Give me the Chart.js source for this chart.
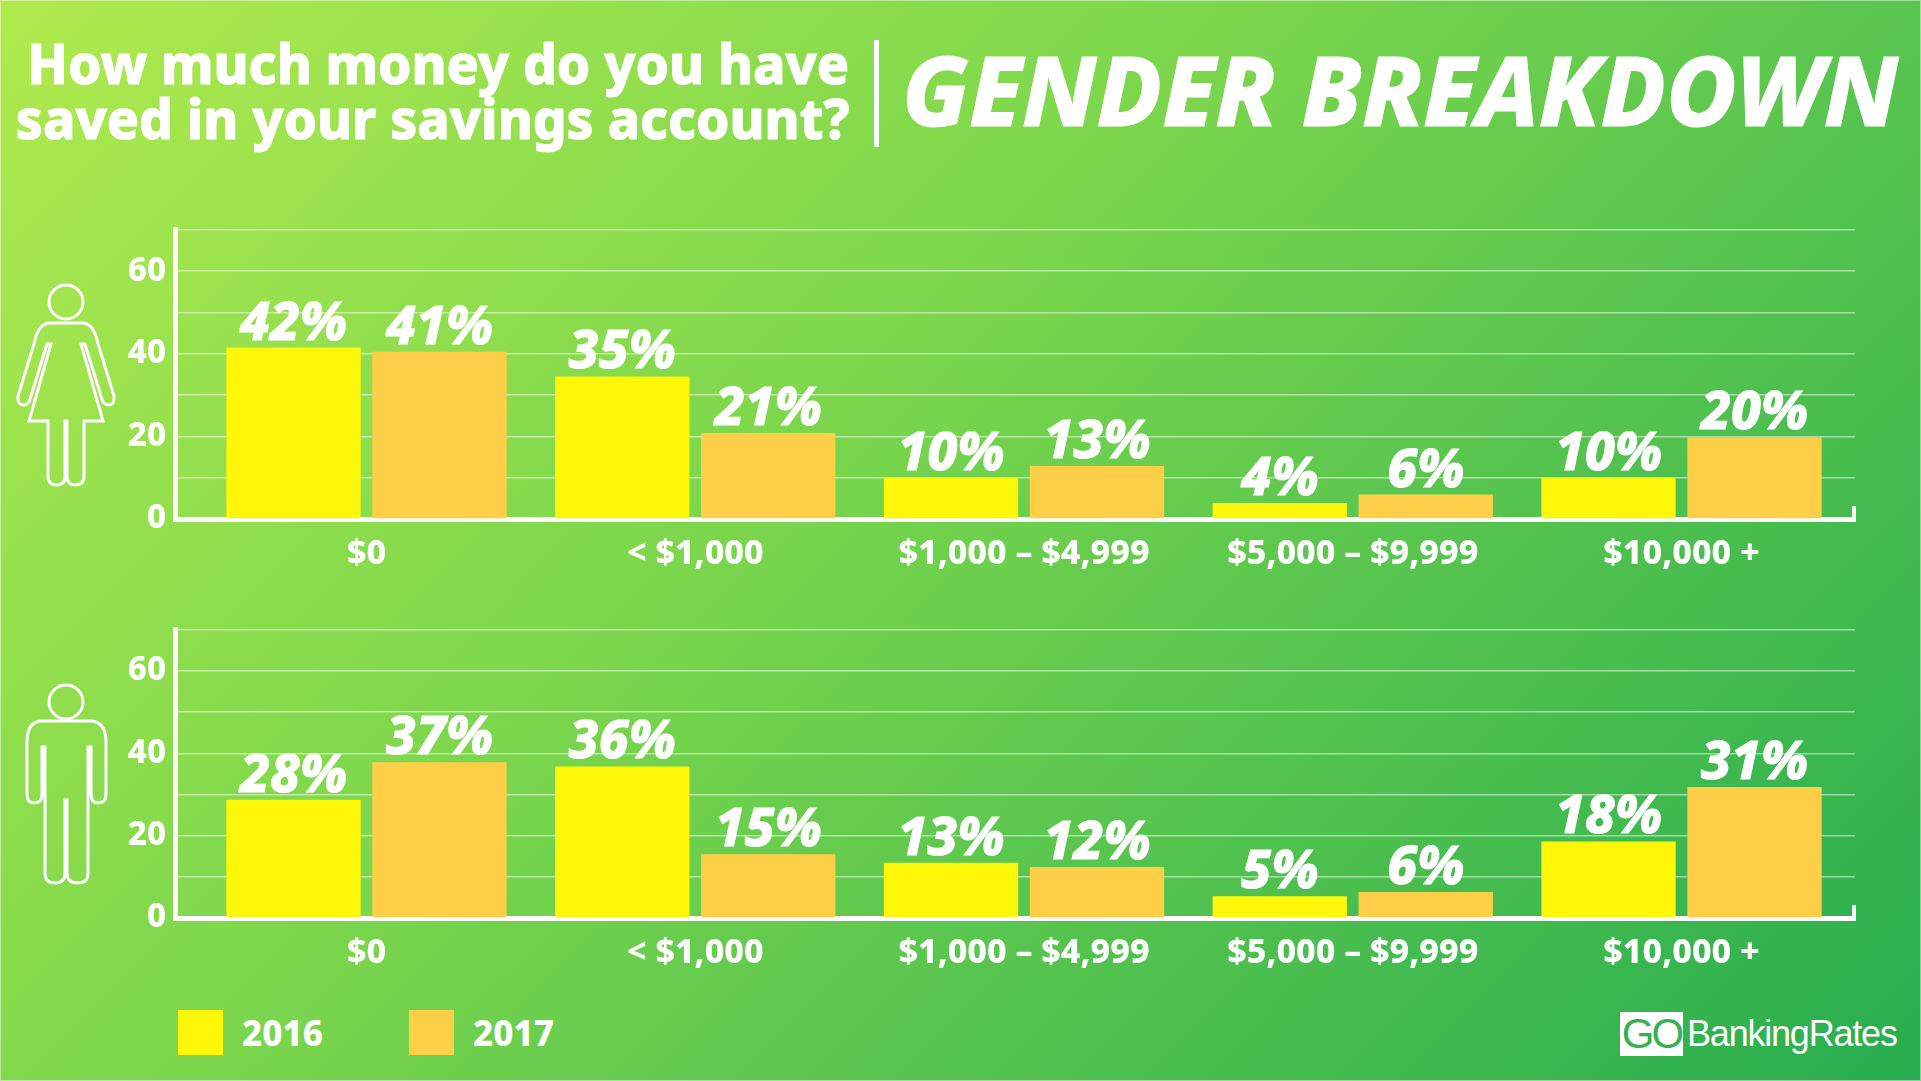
<!DOCTYPE html>
<html>
<head>
<meta charset="utf-8">
<title>Gender Breakdown</title>
<script src="https://cdn.jsdelivr.net/npm/chart.js@4"></script>
<style>
  html, body { margin: 0; padding: 0; background: #fff; }
  body { width: 1921px; height: 1081px; overflow: hidden; position: relative; font-family: 'Noto Sans', sans-serif; color: #fff;
         background: linear-gradient(135deg, #b0ea4e 0%, #7bd64c 42%, #5cc74e 62%, #27ad4f 100%); }
  canvas { position: absolute; left: 0; }
  #femaleChart { top: 201px; }
  #maleChart { top: 601px; }
  .question { position: absolute; right: 1072px; font-weight: 800; font-size: 56px; line-height: 57px; white-space: nowrap; transform-origin: right center; transform: scaleX(.95); -webkit-text-stroke: 1px #fff; }
  .divider { position: absolute; left: 874px; top: 40px; width: 5px; height: 107px; background: #fff; }
  .headline { position: absolute; left: 902px; top: 24px; font-weight: 800; font-style: italic; font-size: 96.4px; line-height: 130px; white-space: nowrap; -webkit-text-stroke: 1px #fff; }
  .icon { position: absolute; left: 0; top: 0; }
  .legend-box { position: absolute; top: 1010px; width: 45px; height: 45px; }
  .legend-text { position: absolute; top: 1008px; font-size: 35px; line-height: 50px; font-weight: 800; }
  .logo-box { position: absolute; left: 1620px; top: 1012px; width: 63px; height: 44px; background: #fff; color: #33b24f; font: 42px/44px 'Liberation Sans', sans-serif; letter-spacing: -3px; text-align: center; }
  .logo-text { position: absolute; left: 1687px; top: 1012px; font: 36px/44px 'Liberation Sans', sans-serif; letter-spacing: -1.2px; }
  .edge { position: absolute; inset: 0; box-shadow: inset 0 0 0 1px rgba(255,255,255,.45); pointer-events: none; }
</style>
</head>
<body>
<div class="question" style="top:34px">How much money do you have</div>
<div class="question" style="top:89px">saved in your savings account?</div>
<div class="divider"></div>
<div class="headline">GENDER BREAKDOWN</div>

<canvas id="femaleChart" width="1921" height="378"></canvas>
<canvas id="maleChart" width="1921" height="377"></canvas>

<svg class="icon" width="140" height="1081" fill="none" stroke="#fff" stroke-width="3">
  <ellipse cx="66" cy="302" rx="17" ry="17"/>
  <path d="M50 323 H82 Q94 323 98 344 L114 396 Q115 405 108 405 Q103 405 101 396 L85 344 H81 L103 421 H84 V476 Q84 485 75 485 Q67 485 67 476 V421 H65 V476 Q65 485 57 485 Q48 485 48 476 V421 H29 L51 344 H47 L31 396 Q29 405 24 405 Q17 405 18 396 L34 344 Q38 323 50 323 Z"/>
  <ellipse cx="66" cy="702" rx="17" ry="17"/>
  <path d="M42 721 H90 Q106 721 106 742 V794 Q106 803 98 803 Q91 803 91 794 V747 H88 V873 Q88 883 78 883 Q67 883 67 873 V800 H65 V873 Q65 883 55 883 Q45 883 45 873 V747 H42 V794 Q42 803 34 803 Q27 803 27 794 V742 Q27 721 42 721 Z"/>
</svg>

<div class="legend-box" id="legendBox2016" style="left:178px"></div>
<div class="legend-text" style="left:242px">2016</div>
<div class="legend-box" id="legendBox2017" style="left:409px"></div>
<div class="legend-text" style="left:473px">2017</div>

<div class="logo-box">GO</div>
<div class="logo-text">BankingRates</div>
<div class="edge"></div>

<script>
const categories = ['$0', '< $1,000', '$1,000 – $4,999', '$5,000 – $9,999', '$10,000 +'];

// bar heights, the printed labels differ a little
const female2016 = [41.5, 34.5, 10, 3.9, 10];
const female2017 = [40.5, 20.8, 12.8, 5.9, 19.8];
const male2016 = [28.7, 36.8, 13.4, 5.3, 18.6];
const male2017 = [37.8, 15.5, 12.4, 6.3, 31.8];

const femaleLabels2016 = ['42%', '35%', '10%', '4%', '10%'];
const femaleLabels2017 = ['41%', '21%', '13%', '6%', '20%'];
const maleLabels2016 = ['28%', '36%', '13%', '5%', '18%'];
const maleLabels2017 = ['37%', '15%', '12%', '6%', '31%'];

const yTickLabels = [0, 20, 40, 60];
const COLOR_2016 = '#fff70a';
const COLOR_2017 = '#ffcf47';
const FONT = "'Noto Sans', sans-serif";

document.getElementById('legendBox2016').style.background = COLOR_2016;
document.getElementById('legendBox2017').style.background = COLOR_2017;

// percent labels on top of the bars + the little tick at the end of the axis
const barLabelsPlugin = {
    id: 'barLabels',
    afterDatasetsDraw(chart) {
        const ctx = chart.ctx;
        ctx.save();
        ctx.fillStyle = '#fff';
        ctx.strokeStyle = '#fff';
        ctx.lineWidth = 1;
        ctx.textAlign = 'center';
        ctx.textBaseline = 'alphabetic';
        ctx.font = 'italic 800 53px ' + FONT;
        chart.data.datasets.forEach((ds, d) => {
            chart.getDatasetMeta(d).data.forEach((bar, i) => {
                ctx.fillText(ds.valueLabels[i], bar.x, bar.y - 8);
                ctx.strokeText(ds.valueLabels[i], bar.x, bar.y - 8);
            });
        });
        const area = chart.chartArea;
        ctx.fillRect(area.right - 3, area.bottom - 13, 4, 13);
        ctx.restore();
    }
};

function makeChart(id, values2016, values2017, labels2016, labels2017) {
    const ctx = document.getElementById(id);
    return new Chart(ctx, {
        type: 'bar',
        data: {
            datasets: [
                {
                    label: '2016',
                    data: values2016.map((v, i) => ({ x: i, y: v })),
                    valueLabels: labels2016,
                    backgroundColor: COLOR_2016
                },
                {
                    label: '2017',
                    data: values2017.map((v, i) => ({ x: i, y: v })),
                    valueLabels: labels2017,
                    backgroundColor: COLOR_2017
                }
            ]
        },
        plugins: [barLabelsPlugin],
        options: {
            responsive: false,
            animation: false,
            devicePixelRatio: 1,
            categoryPercentage: 0.888,
            barPercentage: 0.92,
            layout: { autoPadding: false, padding: { top: 3, right: 66, left: 0, bottom: 0 } },
            plugins: { legend: { display: false }, tooltip: { enabled: false } },
            scales: {
                x: {
                    type: 'linear',
                    offset: false,
                    bounds: 'data',
                    min: -0.5825,
                    max: 4.5277,
                    grid: { display: false },
                    border: { color: '#fff', width: 5 },
                    afterBuildTicks: axis => { axis.ticks = categories.map((c, i) => ({ value: i })); },
                    afterFit: axis => { axis.height = 60; },
                    ticks: {
                        autoSkip: false,
                        maxRotation: 0,
                        padding: 7,
                        color: '#fff',
                        font: { family: FONT, size: 34, weight: '800' },
                        callback: value => categories[value]
                    }
                },
                y: {
                    min: 0,
                    max: 70,
                    grid: { color: 'rgba(255,255,255,0.5)', lineWidth: 1.5, drawTicks: false },
                    border: { color: '#fff', width: 5 },
                    afterFit: axis => { axis.width = 175; },
                    ticks: {
                        stepSize: 10,
                        autoSkip: false,
                        padding: 9,
                        color: '#fff',
                        font: { family: FONT, size: 33, weight: '800' },
                        callback: value => yTickLabels.includes(value) ? value : ''
                    }
                }
            }
        }
    });
}

makeChart('femaleChart', female2016, female2017, femaleLabels2016, femaleLabels2017);
makeChart('maleChart', male2016, male2017, maleLabels2016, maleLabels2017);
</script>
</body>
</html>
